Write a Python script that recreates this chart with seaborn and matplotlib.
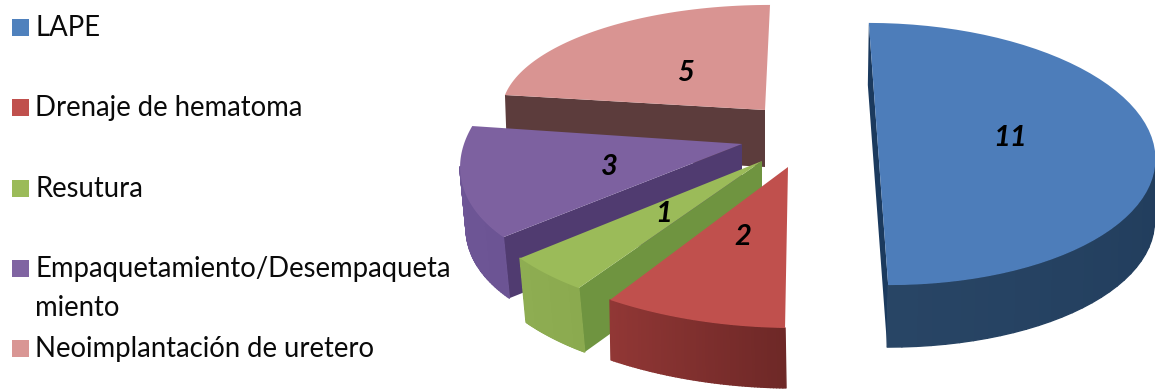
import numpy as np
import matplotlib
matplotlib.use("Agg")
import matplotlib.pyplot as plt
import matplotlib.colors as mc
import seaborn as sns
from matplotlib.patches import Rectangle

# ---- data ----
categories = ["LAPE", "Drenaje de hematoma", "Resutura",
              "Empaquetamiento/Desempaqueta\nmiento", "Neoimplantación de uretero"]
values = [11, 2, 1, 3, 5]
first_slice_angle = -2.0

# ---- styles ----
palette = sns.color_palette(["#4F81BD", "#C0504D", "#9BBB59", "#8064A2", "#D99694"])
face_colors = ["#4D7DBA", "#C0504D", "#9BBB59", "#7D61A0", "#D99492"]
# per-slice projection of the tilted, exploded 3-D pie: apex, 2x2 map, extrusion
views = [
    dict(apex=(878.5, 154), m=((277, 0), (5, -131)),      off=(-1, 62),
         arc=("#1A3453", "#284565"), radial="#1B3A5E"),
    dict(apex=(788, 167),   m=((324.3, 14.3), (10.2, -160.7)), off=(1, 60),
         arc=("#6E2827", "#913735"), radial=None),
    dict(apex=(762, 161),   m=((295.4, 37.6), (10.4, -154)),   off=(6, 64),
         arc=("#8BAA4F", "#8EAD52"), radial="#6F9440"),
    dict(apex=(742, 144),   m=((277, 52.5), (2.9, -140)),      off=(6, 61),
         arc=("#6C5494", "#6F5797"), radial="#503B70"),
    dict(apex=(765, 110),   m=((263.1, 14.2), (3.7, -105)),    off=(2, 57),
         arc=None, radial="#5C3C3C"),
]
label_xy = [(1010, 138), (743, 237), (664, 214), (609, 167), (685, 73)]
legend_rows = [27, 107, 188, 268, 348]
draw_order = [4, 3, 2, 1, 0]

sns.set_theme(style="white")
plt.rcParams["font.family"] = ["Lato", "DejaVu Sans"]

fig = plt.figure(figsize=(11.55, 3.89), dpi=100)
ax = fig.add_axes([0, 0, 1, 1])
ax.set_xlim(0, 1155)
ax.set_ylim(389, 0)
ax.axis("off")

# slice angles come from the values
sweeps = 360.0 * np.array(values) / np.sum(values)
starts = first_slice_angle + np.concatenate([[0], np.cumsum(sweeps)[:-1]])


def project(view, theta):
    t = np.radians(theta)
    s, c = np.sin(t), np.cos(t)
    (a, b), (d, e) = view["m"]
    return np.column_stack([view["apex"][0] + a * s + b * c,
                            view["apex"][1] + d * s + e * c])


for i in draw_order:
    v = views[i]
    z = 10 - i
    th = np.linspace(starts[i], starts[i] + sweeps[i], 60)
    rim = project(v, th)
    apex = np.array(v["apex"], float)
    off = np.array(v["off"], float)
    # radial wall
    if v["radial"]:
        if i == 0:
            wall = [rim[0], rim[-1], rim[-1] + off, rim[0] + off]
        else:
            wall = [apex, rim[0], rim[0] + off, apex + (0, off[1])]
        ax.fill(*np.array(wall).T, color=v["radial"], lw=0, zorder=z)
    # outer wall, shaded along the arc; only the part turned towards the viewer
    if v["arc"]:
        c0, c1 = (np.array(mc.to_rgb(x)) for x in v["arc"])
        for k in range(len(th) - 1):
            if rim[k + 1, 0] >= rim[k, 0]:
                continue
            col = c0 + (c1 - c0) * k / (len(th) - 2)
            q = np.array([rim[k], rim[k + 1], rim[k + 1] + off, rim[k] + off])
            ax.fill(*q.T, color=col, lw=1.0, joinstyle="round", zorder=z)
    # top face
    ax.fill(*np.vstack([apex, rim]).T, color=face_colors[i], lw=0, zorder=z + 0.5)
    ax.text(*label_xy[i], str(values[i]), ha="center", va="center", fontsize=21,
            fontweight="bold", fontstyle="italic", color="black", zorder=20)

# legend
for name, colour, y in zip(categories, palette, legend_rows):
    ax.add_patch(Rectangle((12, y - 8.5), 17, 17, facecolor=colour, edgecolor="none"))
    ax.text(35, y - 12, name, ha="left", va="top", fontsize=19.8, color="#0A0A0A",
            linespacing=1.62)

fig.savefig("out.png", dpi=100)
